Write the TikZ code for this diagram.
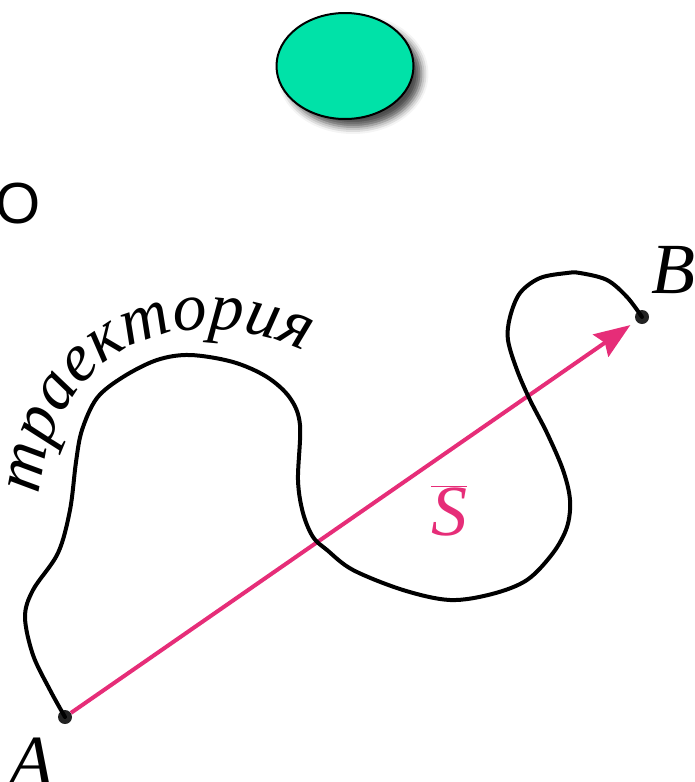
\documentclass[tikz,border=0pt]{standalone}
\usepackage{fontspec}
\setmainfont{Liberation Serif}
\setsansfont{Liberation Sans}
\usetikzlibrary{positioning,arrows.meta,shapes.geometric,shadows.blur,decorations.text}
\definecolor{ovalgreen}{RGB}{0,226,168}
\definecolor{vecpink}{RGB}{230,45,120}
\definecolor{dotgray}{RGB}{35,35,35}

\begin{document}
\begin{tikzpicture}[x=1pt,y=-1pt,
    oval/.style={ellipse,draw,line width=2pt,fill=ovalgreen,
        minimum width=137pt,minimum height=106pt,
        blur shadow={shadow xshift=8pt,shadow yshift=-8pt,
            shadow blur radius=7pt,shadow opacity=70}},
    dot/.style={circle,fill=dotgray,inner sep=0pt,minimum size=14pt},
    traj/.style={line width=4pt,line cap=round,line join=round},
    vec/.style={vecpink,line width=4pt,shorten >=7pt,
        -{Stealth[length=36pt,width=27pt,inset=5pt]}},
    lbl/.style={font=\fontsize{72}{72}\selectfont\itshape,inner sep=0pt,anchor=base}]
  \useasboundingbox (0,0) rectangle (694,782);
  % top oval and the letter at the left
  \node[oval] (oval) at (345,66) {};
  \node[font=\sffamily\fontsize{58}{58}\selectfont,inner sep=0pt,anchor=base]
      (labO) at (18,223) {O};
  % start and end points
  \node[dot] (A) at (65,717) {};
  \node[dot] (B) at (642,317) {};
  \node[lbl] (labA) at (31,785) {A};
  \node[lbl] (labB) at (673,293) {B};
  % displacement vector
  \draw[vec] (A) -- (B);
  \node[lbl,text=vecpink] (labS) at (449,535) {\(\overline{\textit{S}}\)};
  % trajectory
  \draw[traj] plot[smooth,tension=0.55] coordinates {
      (A.center) (50,690) (33,655) (25,617) (33,590) (58,553)
      (70,510) (76,462) (82,430) (97,398) (123,377) (157,360)
      (190,355) (233,362) (267,377) (290,398) (300,425) (298,480)
      (303,513) (313,537) (327,550) (353,570) (403,590) (450,600)
      (492,594) (527,580) (553,553) (567,527) (570,500) (563,470)
      (547,433) (530,400) (517,370) (508,340) (510,317) (520,293)
      (540,278) (567,273) (580,273) (607,280) (627,297) (B.center)};
  \path[decorate,decoration={text along path,text align=center,
      text={|\fontsize{68}{68}\selectfont\itshape|траектория}}]
      (40,495) .. controls (50,360) and (170,290) .. (305,352);
\end{tikzpicture}
\end{document}
